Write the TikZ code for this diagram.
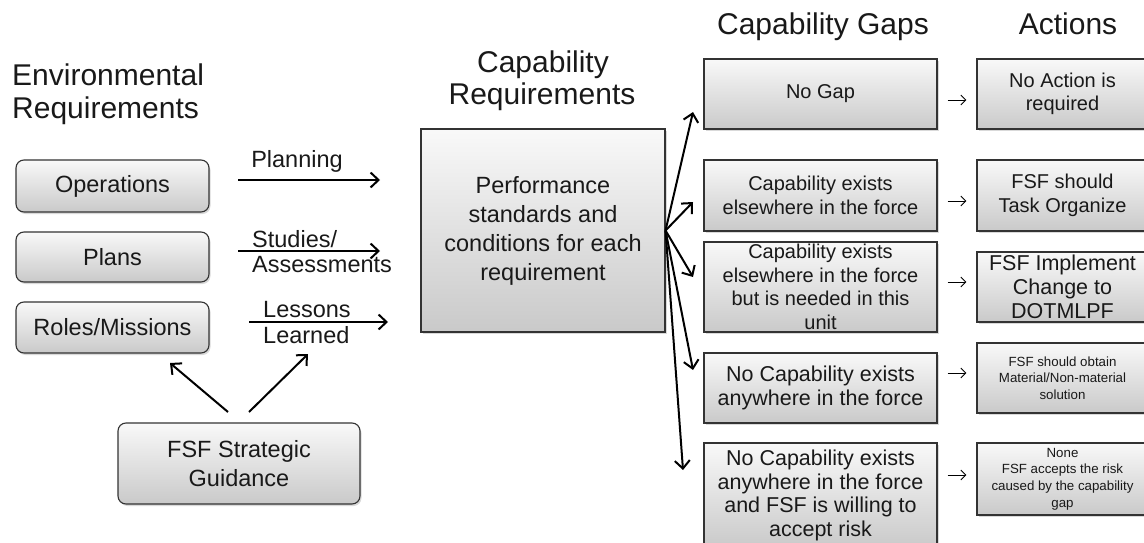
\documentclass[tikz,border=0pt]{standalone}
\usepackage{fontspec}
\setmainfont{Liberation Sans}
\usetikzlibrary{arrows.meta,shadows,calc}
\tikzset{
  box/.style={draw=black!80, line width=1.1pt, top color=gray!5, bottom color=gray!42,
    drop shadow={opacity=0.3, shadow xshift=1.5pt, shadow yshift=-2pt},
    align=center, inner sep=0pt, text=black!90},
  rbox/.style={box, rounded corners=8pt},
  bigtxt/.style={font=\fontsize{23.5}{29}\selectfont},
  midtxt/.style={font=\fontsize{20}{23.5}\selectfont},
  midbtxt/.style={font=\fontsize{21.5}{23.7}\selectfont},
  smalltxt/.style={font=\fontsize{13.3}{16.7}\selectfont},
  headtxt/.style={font=\fontsize{30}{34}\selectfont, text=black!90, inner sep=0pt},
  lbl/.style={font=\fontsize{23.5}{26}\selectfont, text=black!90, inner sep=0pt},
  arr/.style={line width=2pt, -{Straight Barb[length=8pt,width=15pt]}},
  sarr/.style={line width=0.9pt, -{Straight Barb[length=5pt,width=10pt]}, shorten <=10pt, shorten >=10pt}
}
\begin{document}
\begin{tikzpicture}[x=1pt,y=-1pt]
\useasboundingbox (0,0) rectangle (1144,543);

% headings
\node[headtxt, anchor=base west] (h1a) at (12,85) {Environmental};
\node[headtxt, anchor=base west] (h1b) at (12,118) {Requirements};
\node[headtxt, anchor=base] (h2a) at (543,73) {Capability};
\node[headtxt, anchor=base] (h2b) at (542,105) {Requirements};
\node[headtxt, anchor=base] (h3) at (823,35) {Capability Gaps};
\node[headtxt, anchor=base] (h4) at (1068,35) {Actions};

% left boxes
\node[rbox, bigtxt, minimum width=193pt, minimum height=52pt] (ops) at (112.5,186) {Operations};
\node[rbox, bigtxt, minimum width=193pt, minimum height=50pt] (plans) at (112.5,257) {Plans};
\node[rbox, bigtxt, minimum width=193pt, minimum height=51pt] (roles) at (112.5,327.5) {Roles/Missions};
\node[rbox, bigtxt, minimum width=242pt, minimum height=81pt] (fsf) at (239,463.5) {FSF Strategic\\Guidance};

% centre box
\node[box, bigtxt, minimum width=244pt, minimum height=203pt] (perf) at (543,230.5)
  {Performance\\standards and\\conditions for each\\requirement};

% gap boxes
\node[box, midtxt, minimum width=233pt, minimum height=70pt] (g1) at (820.5,94) {No Gap};
\node[box, midtxt, minimum width=233pt, minimum height=71pt] (g2) at (820.5,195.5) {Capability exists\\elsewhere in the force};
\node[box, midtxt, minimum width=233pt, minimum height=90pt] (g3) at (820.5,287) {Capability exists\\elsewhere in the force\\but is needed in this\\unit};
\node[box, midbtxt, minimum width=233pt, minimum height=70pt] (g4) at (820.5,388) {No Capability exists\\anywhere in the force};
\node[box, midbtxt, minimum width=233pt, minimum height=105pt] (g5) at (820.5,495.5) {No Capability exists\\anywhere in the force\\and FSF is willing to\\accept risk};

% action boxes
\node[box, midtxt, minimum width=171pt, minimum height=70pt] (a1) at (1062.5,94) {No Action is\\required};
\node[box, midtxt, minimum width=171pt, minimum height=71pt] (a2) at (1062.5,195.5) {FSF should\\Task Organize};
\node[box, midbtxt, minimum width=171pt, minimum height=70pt] (a3) at (1062.5,287) {FSF Implement\\Change to\\DOTMLPF};
\node[box, smalltxt, minimum width=171pt, minimum height=70pt] (a4) at (1062.5,378) {FSF should obtain\\Material/Non-material\\solution};
\node[box, smalltxt, minimum width=171pt, minimum height=72pt] (a5) at (1062.5,479) {None\\FSF accepts the risk\\caused by the capability\\gap};

% labels of left arrows
\node[lbl, anchor=base] (lp) at (297,167) {Planning};
\node[lbl, anchor=base west] (ls1) at (252,247) {Studies/};
\node[lbl, anchor=base west] (ls2) at (252,272) {Assessments};
\node[lbl, anchor=base west] (ll1) at (263,317) {Lessons};
\node[lbl, anchor=base west] (ll2) at (263,343) {Learned};

% free ends
\coordinate (c1s) at (238,180); \coordinate (c1e) at (380,180);
\coordinate (c2s) at (238,251); \coordinate (c2e) at (380,251);
\coordinate (c3s) at (249,322); \coordinate (c3e) at (388,322);
\coordinate (f1s) at (228,412); \coordinate (f1e) at (170,363);
\coordinate (f2s) at (249,412); \coordinate (f2e) at (308,354);
\coordinate (t1) at (693,112);
\coordinate (t2) at (693,202);
\coordinate (t3) at (693,277);
\coordinate (t4) at (693,370);
\coordinate (t5) at (683,470);

\draw[arr] (c1s) -- (c1e);
\draw[arr] (c2s) -- (c2e);
\draw[arr] (c3s) -- (c3e);
\draw[arr] (f1s) -- (f1e);
\draw[arr] (f2s) -- (f2e);

\draw[arr] (perf.east) -- (t1);
\draw[arr] (perf.east) -- (t2);
\draw[arr] (perf.east) -- (t3);
\draw[arr] (perf.east) -- (t4);
\draw[arr] (perf.east) -- (t5);

% small arrows gap -> action
\draw[sarr] ($(g1.east |- a1.west)+(0,6)$) -- ($(a1.west)+(0,6)$);
\draw[sarr] ($(g2.east |- a2.west)+(0,5.5)$) -- ($(a2.west)+(0,5.5)$);
\draw[sarr] ($(g3.east |- a3.west)+(0,-5)$) -- ($(a3.west)+(0,-5)$);
\draw[sarr] ($(g4.east |- a4.west)+(0,-5)$) -- ($(a4.west)+(0,-5)$);
\draw[sarr] ($(g5.east |- a5.west)+(0,-4)$) -- ($(a5.west)+(0,-4)$);
\end{tikzpicture}
\end{document}
